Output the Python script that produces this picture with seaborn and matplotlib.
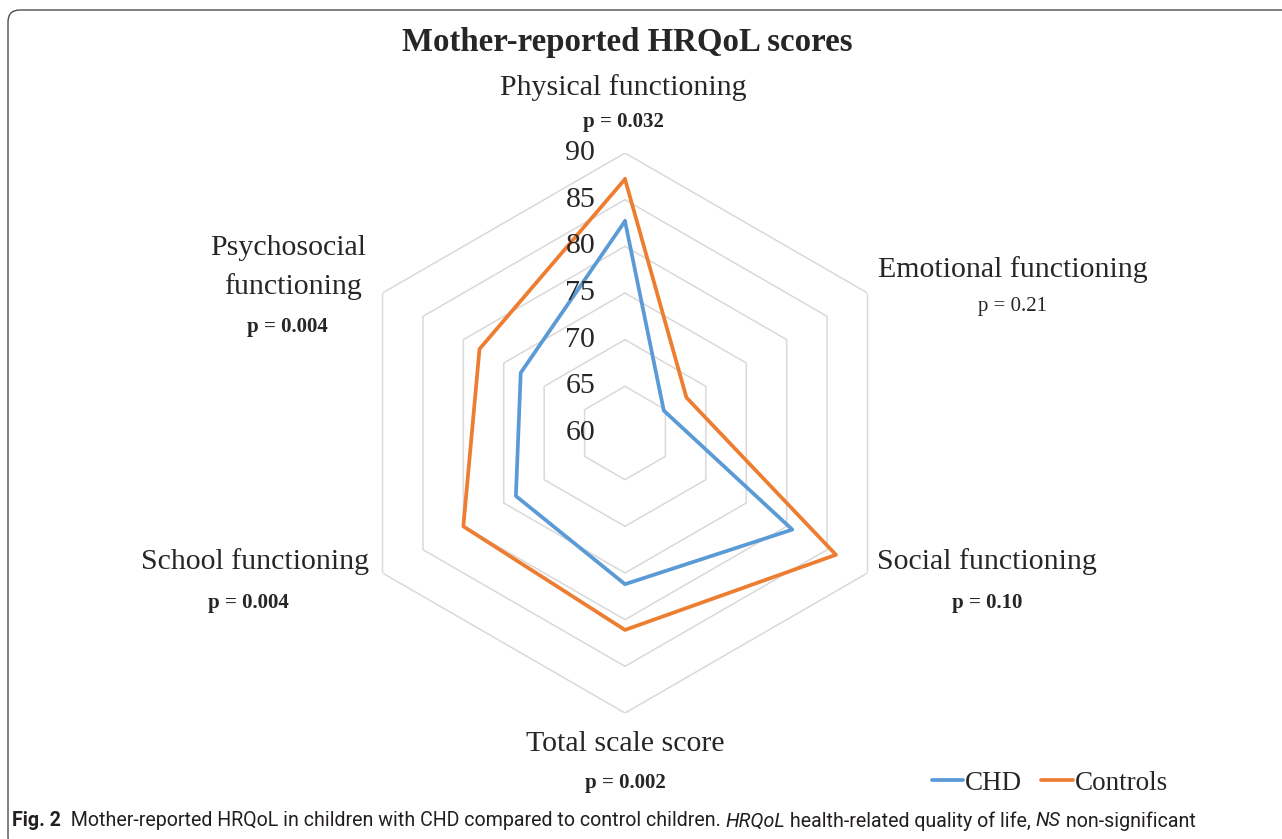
import numpy as np
import pandas as pd
import matplotlib
matplotlib.use('Agg')
import matplotlib.pyplot as plt
import seaborn as sns
from matplotlib.lines import Line2D
from matplotlib.patches import FancyBboxPatch
from matplotlib.transforms import IdentityTransform

# Data (scores, axis starts at 60)
categories = ['Physical functioning', 'Emotional functioning', 'Social functioning',
              'Total scale score', 'School functioning', 'Psychosocial functioning']
chd = [82.7, 64.8, 80.7, 76.2, 73.5, 72.9]
controls = [87.2, 67.6, 86.1, 81.1, 80.0, 78.0]
p_values = ['p = 0.032', 'p = 0.21', 'p = 0.10', 'p = 0.002', 'p = 0.004', 'p = 0.004']
p_bold = [True, False, True, True, True, True]
ring_ticks = [60, 65, 70, 75, 80, 85, 90]

sns.set_style('white')
plt.rcParams['font.family'] = ['Liberation Serif', 'DejaVu Serif']

BLUE = '#5B9BD5'
ORANGE = '#ED7D31'

# long table, loop closed by repeating the first category
n = len(categories)
theta = list(np.linspace(0, 2 * np.pi, n, endpoint=False))
theta_closed = theta + [2 * np.pi]
df = pd.DataFrame({
    'theta': theta_closed * 2,
    'score': chd + chd[:1] + controls + controls[:1],
    'group': ['CHD'] * (n + 1) + ['Controls'] * (n + 1),
})

W, H = 1282, 839
fig = plt.figure(figsize=(W / 100, H / 100), dpi=100)
fig.patch.set_facecolor('white')

cx, cy, rad = 625, 433, 280
ax = fig.add_axes([(cx - rad) / W, (H - cy - rad) / H, 2 * rad / W, 2 * rad / H],
                  projection='polar')
ax.set_theta_zero_location('N')
ax.set_theta_direction(-1)
ax.set_ylim(ring_ticks[0], ring_ticks[-1])
ax.grid(False)
ax.spines['polar'].set_visible(False)
ax.set_xticks([])
ax.set_yticks([])
ax.patch.set_alpha(0)

# hexagonal grid rings
for r in ring_ticks[1:]:
    ax.plot(theta_closed, [r] * (n + 1), color='#D9D9D9', lw=1.1, zorder=1)

sns.lineplot(data=df, x='theta', y='score', hue='group', sort=False, estimator=None,
             palette={'CHD': BLUE, 'Controls': ORANGE}, lw=2.7, legend=False, ax=ax,
             zorder=3)
ax.set_xlabel('')
ax.set_ylabel('')

# radial tick labels along the top spoke
for r in ring_ticks:
    ax.annotate(str(r), xy=(0, r), xytext=(-21.5, 0), textcoords='offset points',
                ha='right', va='center', fontsize=21.5, color='#262626',
                annotation_clip=False)

def fy(y):
    return 1 - y / H

fig.text(627 / W, fy(42), 'Mother-reported HRQoL scores', ha='center', va='center',
         fontsize=23.7, fontweight='bold')

label_pos = [(623, 88), (1013, 270), (987, 562), (625, 744), (255, 562), (290, 267)]
p_pos = [(623, 122), (1013, 307), (987, 603), (625, 783), (248, 603), (287, 327)]
for i, cat in enumerate(categories):
    if cat == 'Psychosocial functioning':
        fig.text(288 / W, fy(248), 'Psychosocial', ha='center', va='center', fontsize=21.5)
        fig.text(293 / W, fy(287), 'functioning', ha='center', va='center', fontsize=21.5)
    else:
        fig.text(label_pos[i][0] / W, fy(label_pos[i][1]), cat, ha='center', va='center',
                 fontsize=21.5)
    fig.text(p_pos[i][0] / W, fy(p_pos[i][1]), p_values[i], ha='center', va='center',
             fontsize=15, fontweight='bold' if p_bold[i] else 'normal')

handles = [Line2D([], [], color=BLUE, lw=2.7), Line2D([], [], color=ORANGE, lw=2.7)]
fig.legend(handles, ['CHD', 'Controls'], loc='center', bbox_to_anchor=(1050 / W, fy(783)),
           ncol=2, frameon=False, fontsize=19.5, handlelength=1.15, handletextpad=0.08,
           columnspacing=0.7)

# outer frame
frame = FancyBboxPatch((8, -10), 1290, H, boxstyle='round,pad=0,rounding_size=12',
                       transform=IdentityTransform(), fill=False, ec='#4d4d4d', lw=1.0)
fig.patches.append(frame)

# caption with mixed styles
renderer = fig.canvas.get_renderer()
pieces = [('Fig. 2', 'bold', 'normal'),
          ('  Mother-reported HRQoL in children with CHD compared to control children. ', 'normal', 'normal'),
          ('HRQoL', 'normal', 'italic'),
          (' health-related quality of life, ', 'normal', 'normal'),
          ('NS', 'normal', 'italic'),
          (' non-significant', 'normal', 'normal')]
x = 12
for s, w, st in pieces:
    t = fig.text(x / W, fy(821), s, ha='left', va='center', fontsize=14.1,
                 family=['Roboto', 'DejaVu Sans'], fontweight=w, fontstyle=st,
                 color='#231f20')
    bb = t.get_window_extent(renderer=renderer)
    x += bb.width

fig.savefig('out.png', dpi=100, facecolor='white')
